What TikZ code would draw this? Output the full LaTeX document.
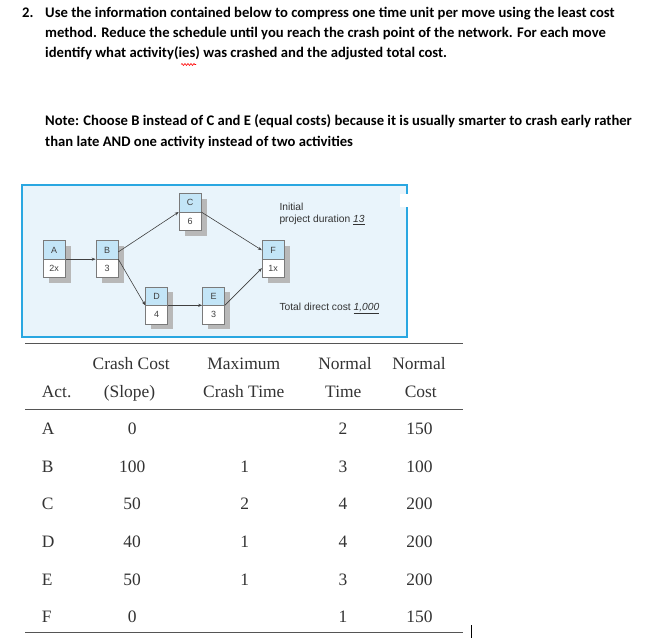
\documentclass[tikz,border=0pt]{standalone}
\usepackage{fontspec}
\setmainfont{Carlito}
\newfontfamily\tabfont{Liberation Serif}
\newfontfamily\netfont{Liberation Sans}
\usetikzlibrary{arrows.meta,shadows,decorations.pathmorphing}
\definecolor{boxblue}{HTML}{2AA7E1}
\definecolor{bgblue}{HTML}{E9F4FB}
\definecolor{cellblue}{HTML}{C3E5F7}
\definecolor{shadowgray}{HTML}{B8B8B8}
\definecolor{cellline}{HTML}{7A7A7A}
\definecolor{tabtext}{HTML}{333333}
\definecolor{ruleclr}{HTML}{555555}
\begin{document}
\begin{tikzpicture}[x=1bp,y=-1bp,
  qtext/.style={anchor=base west, inner sep=0, font=\fontsize{14.7}{17}\selectfont\bfseries},
  act/.style={draw=cellline, line width=0.6bp, fill=white, minimum width=22bp, minimum height=37bp, inner sep=0,
    general shadow={fill=shadowgray, shadow xshift=5.5bp, shadow yshift=-5.5bp},
    path picture={\fill[cellblue] (path picture bounding box.north west) rectangle (path picture bounding box.east);
      \draw[cellline, line width=0.6bp] (path picture bounding box.west) -- (path picture bounding box.east);}},
  celltxt/.style={inner sep=0, font=\netfont\fontsize{9}{10}\selectfont, text=black!75},
  nettxt/.style={anchor=base west, inner sep=0, font=\netfont\fontsize{10.3}{12}\selectfont, text=black!80},
  conn/.style={-{Stealth[length=4bp,width=3bp]}, line width=0.6bp, draw=black!75},
  tabt/.style={anchor=base, inner sep=0, font=\tabfont\fontsize{17.5}{20}\selectfont, text=tabtext},
  tabl/.style={anchor=base west, inner sep=0, font=\tabfont\fontsize{17.5}{20}\selectfont, text=tabtext},
  rule/.style={draw=ruleclr, line width=1.3bp}
]
\useasboundingbox (0,0) rectangle (658,638);
\fill[white] (0,0) rectangle (658,638);

% question text
\node[qtext] (num) at (22,18) {2.};
\node[qtext] (q1) at (45,18) {Use the information contained below to compress one time unit per move using the least cost};
\node[qtext] (q2) at (45,38) {method. Reduce the schedule until you reach the crash point of the network. For each move};
\node[qtext] (q3) at (45,58) {identify what activity(ies) was crashed and the adjusted total cost.};
\draw[red, line width=0.6bp, decorate, decoration={snake, amplitude=1bp, segment length=3bp}] (181,64.5) -- (196,64.5);
\node[qtext] (n1) at (45,126) {Note: Choose B instead of C and E (equal costs) because it is usually smarter to crash early rather};
\node[qtext] (n2) at (45,147) {than late AND one activity instead of two activities};

% network panel
\draw[boxblue, fill=bgblue, line width=1.5bp] (22,185) rectangle (407,337);
\fill[white] (400,194) rectangle (408.5,207);

\node[act] (A) at (54.2,259.2) {};
\node[act] (B) at (107,259.2) {};
\node[act] (C) at (190,212) {};
\node[act] (D) at (156.5,305.3) {};
\node[act] (E) at (213.5,305.3) {};
\node[act] (F) at (273.2,259.2) {};
\foreach \n/\l/\v in {A/A/2x, B/B/3, C/C/6, D/D/4, E/E/3, F/F/1x}{
  \node[celltxt] (\n t) at ([yshift=9.25bp]\n.center) {\l};
  \node[celltxt] (\n b) at ([yshift=-9.25bp]\n.center) {\v};
}
\draw[conn] (A.east) -- (B.west);
\draw[conn] ([yshift=7.3bp]B.east) -- (C.west);
\draw[conn] (B.east) -- (D.west);
\draw[conn] (D.east) -- (E.west);
\draw[conn] (C.east) -- ([yshift=9bp]F.west);
\draw[conn] (E.east) -- ([yshift=-9bp]F.west);

\node[nettxt] (init) at (279.3,210) {Initial};
\node[nettxt] (dur) at (279.3,222.7) {project duration \underline{\textit{13}}};
\node[nettxt] (tdc) at (279.3,310.7) {Total direct cost \underline{\textit{1,000}}};

% table
\draw[rule] (25,343.3) -- (462.7,343.3);
\draw[rule] (25,409.3) -- (462.7,409.3);
\draw[rule] (25,632.7) -- (462.7,632.7);
\draw[black, line width=1bp] (471.7,625) -- (471.7,639);

\node[tabt] (h1a) at (131.2,369.3) {Crash Cost};
\node[tabt] (h1b) at (129.5,397.3) {(Slope)};
\node[tabt] (h2a) at (243.8,369.3) {Maximum};
\node[tabt] (h2b) at (243.8,397.3) {Crash Time};
\node[tabt] (h3a) at (345,369.3) {Normal};
\node[tabt] (h3b) at (343.3,397.3) {Time};
\node[tabt] (h4a) at (419,369.3) {Normal};
\node[tabt] (h4b) at (420.8,397.3) {Cost};
\node[tabl] (h0) at (41.7,397.3) {Act.};

\foreach \r/\y/\a/\b/\c/\d in {A/434.5/0//2/150, B/472.2/100/1/3/100, C/509.8/50/2/4/200, D/547.4/40/1/4/200, E/585/50/1/3/200, F/622.6/0//1/150}{
  \node[tabl] (r\r) at (41.7,\y) {\r};
  \node[tabt] (s\r) at (132.2,\y) {\a};
  \node[tabt] (m\r) at (244.7,\y) {\b};
  \node[tabt] (t\r) at (343,\y) {\c};
  \node[tabt] (c\r) at (419.5,\y) {\d};
}
\end{tikzpicture}
\end{document}
